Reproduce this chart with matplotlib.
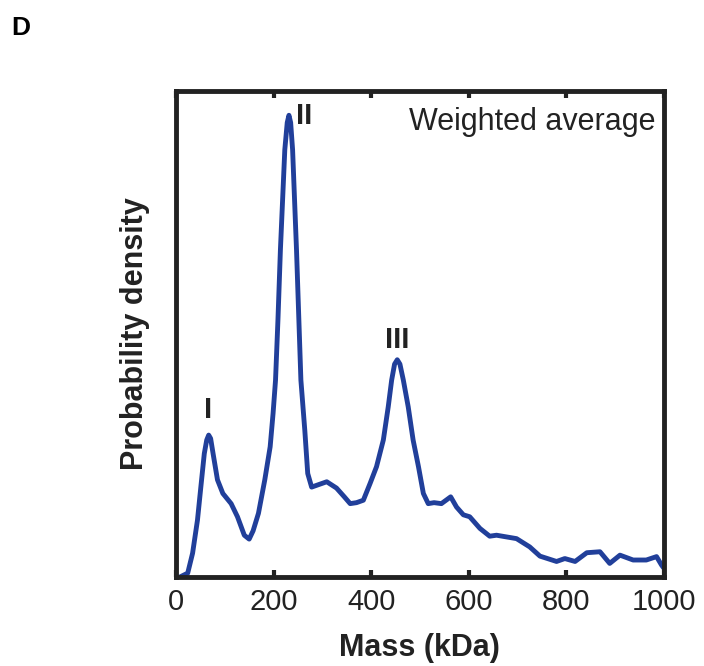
import matplotlib
matplotlib.use("Agg")
import matplotlib.pyplot as plt

plt.rcParams['font.family'] = ['Liberation Sans', 'DejaVu Sans']

mass = [8, 24, 34, 44, 51, 58, 63, 67, 71, 76, 85, 96, 113, 126, 140, 150, 158,
        169, 182, 193, 199, 204, 209, 214, 223, 228, 231.5, 235, 239, 247, 256,
        264, 270, 278, 292, 309, 329, 345, 357, 370, 384, 398, 411, 425, 435, 442,
        448, 453.5, 459, 466, 476, 486, 497, 507, 517, 529, 544, 563, 575,
        589, 602, 623, 643, 657, 698, 725, 746, 780, 797, 818, 842, 869, 889, 910,
        937, 964, 985, 995, 1000]
density = [0.0, 0.008, 0.049, 0.117, 0.186, 0.254, 0.282, 0.292, 0.285, 0.254, 0.2,
           0.172, 0.151, 0.124, 0.086, 0.078, 0.095,
           0.131, 0.2, 0.268, 0.337, 0.405, 0.53, 0.673, 0.879, 0.935, 0.95, 0.935,
           0.879, 0.673, 0.405,
           0.302, 0.213, 0.185, 0.19, 0.196, 0.183, 0.165, 0.151, 0.153, 0.158, 0.193,
           0.227, 0.282, 0.35, 0.405,
           0.438, 0.447, 0.438, 0.405, 0.35, 0.282, 0.227, 0.172, 0.151, 0.153, 0.151,
           0.165, 0.144,
           0.128, 0.124, 0.1, 0.084, 0.086, 0.079, 0.062, 0.043, 0.032, 0.038, 0.032,
           0.05, 0.052, 0.028, 0.045,
           0.035, 0.035, 0.042, 0.025, 0.018]

peak_labels = ["I", "II", "III"]
peak_pos = [(66, 0.344), (262, 0.948), (453, 0.488)]
xticks = [0, 200, 400, 600, 800, 1000]

fig = plt.figure(figsize=(7.04, 6.66), dpi=100)
ax = fig.add_axes([0.25, 0.1336, 0.693, 0.7298])
ax.plot(mass, density, color='#213f9a', lw=3.5, solid_capstyle='round', solid_joinstyle='round')
ax.set_xlim(0, 1000)
ax.set_ylim(0, 1.0)
ax.set_xticks(xticks)
ax.set_xticklabels([str(t) for t in xticks], fontsize=21)
ax.set_yticks([])
ax.tick_params(axis='x', direction='in', length=5, width=3, top=True, color='#222222',
               pad=8, labelcolor='#222222')
for s in ax.spines.values():
    s.set_linewidth(3.5)
    s.set_color('#222222')
ax.set_xlabel('Mass (kDa)', fontsize=22, fontweight='bold', labelpad=12, color='#222222')
ax.set_ylabel('Probability density', fontsize=22, fontweight='bold', labelpad=19, color='#222222')

for lab, (x, y) in zip(peak_labels, peak_pos):
    ax.text(x, y, lab, fontsize=21, fontweight='bold', ha='center', va='center', color='#222222')

ax.text(0.983, 0.936, 'Weighted average', transform=ax.transAxes, ha='right', va='center',
        fontsize=22, color='#222222')
fig.text(0.016, 0.958, 'D', fontsize=19, fontweight='bold', ha='left', va='center')

fig.savefig('out.png', dpi=100)
